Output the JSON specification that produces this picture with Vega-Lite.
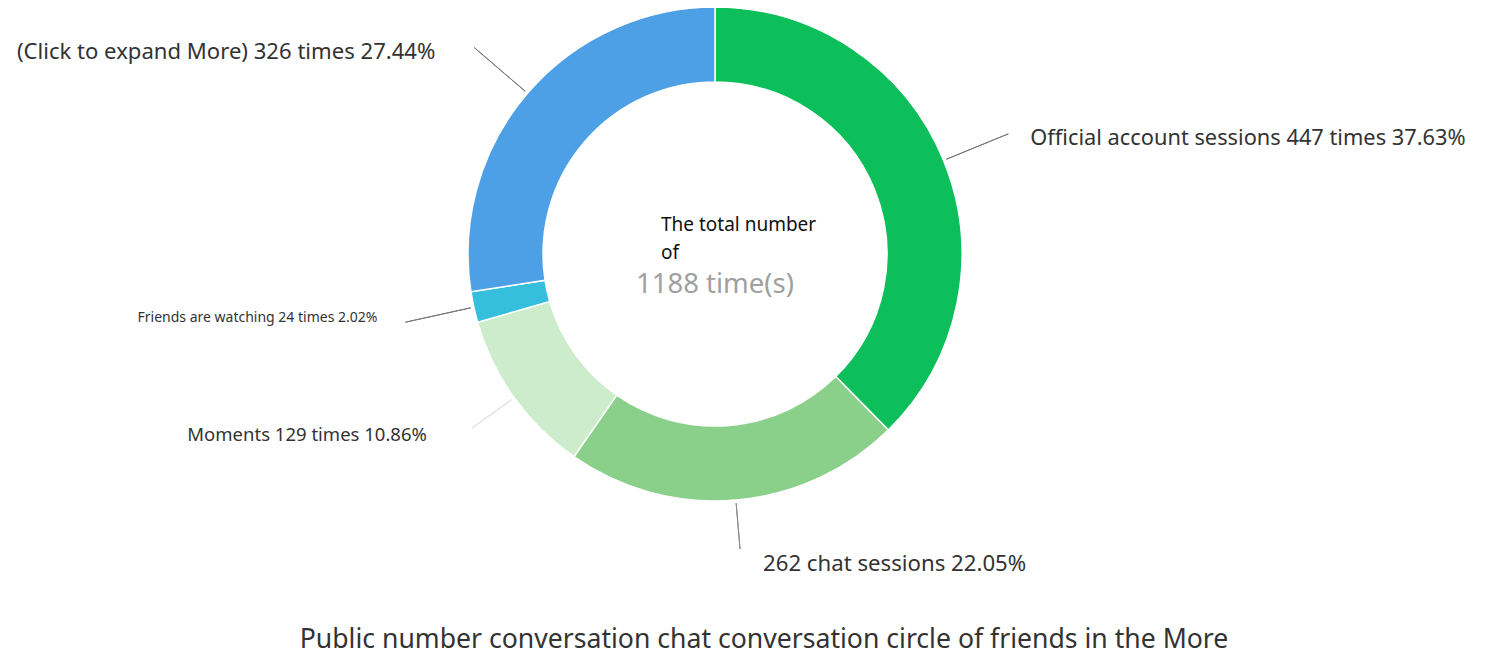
{
  "$schema": "https://vega.github.io/schema/vega-lite/v6.json",
  "width": 1430,
  "height": 508,
  "autosize": {"type": "none"},
  "padding": {"left": 0, "top": 0, "right": 56, "bottom": 148},
  "background": "white",
  "config": {"view": {"stroke": null}, "font": "Noto Sans"},
  "title": {
    "text": "Public number conversation chat conversation circle of friends in the More",
    "orient": "bottom",
    "anchor": "middle",
    "frame": "group",
    "dx": 49,
    "offset": 54,
    "baseline": "middle",
    "fontSize": 26.6,
    "fontWeight": "normal",
    "color": "#333333",
    "font": "Noto Sans"
  },
  "data": {
    "values": [
      {"category": "Official account sessions", "value": 447, "order": 1, "label": "Official account sessions 447 times 37.63%"},
      {"category": "Chat sessions", "value": 262, "order": 2, "label": "262 chat sessions 22.05%"},
      {"category": "Moments", "value": 129, "order": 3, "label": "Moments 129 times 10.86%"},
      {"category": "Friends are watching", "value": 24, "order": 4, "label": "Friends are watching 24 times 2.02%"},
      {"category": "(Click to expand More)", "value": 326, "order": 5, "label": "(Click to expand More) 326 times 27.44%"}
    ]
  },
  "encoding": {
    "theta": {"field": "value", "type": "quantitative", "stack": true},
    "order": {"field": "order", "type": "quantitative"}
  },
  "layer": [
    {
      "mark": {"type": "arc", "radius": 247, "radius2": 172, "stroke": "white", "strokeWidth": 1.5},
      "encoding": {
        "color": {
          "field": "category",
          "type": "nominal",
          "legend": null,
          "scale": {
            "domain": ["Official account sessions", "Chat sessions", "Moments", "Friends are watching", "(Click to expand More)"],
            "range": ["#0dbf5b", "#8ad08a", "#cdeccb", "#35bfdc", "#4d9fe6"]
          }
        }
      }
    },
    {
      "mark": {"type": "arc", "radius": 250, "radius2": 317, "padAngle": 3, "fill": null, "stroke": "#777777", "strokeWidth": 1},
      "encoding": {
        "strokeOpacity": {"condition": {"test": "datum.order == 1 || datum.order == 4 || datum.order == 5", "value": 1}, "value": 0}
      }
    },
    {
      "mark": {"type": "arc", "radius": 250, "radius2": 296, "padAngle": 3, "fill": null, "stroke": "#888888", "strokeWidth": 1},
      "encoding": {
        "strokeOpacity": {"condition": {"test": "datum.order == 2", "value": 1}, "value": 0}
      }
    },
    {
      "mark": {"type": "arc", "radius": 250, "radius2": 299, "padAngle": 3, "fill": null, "stroke": "#dddddd", "strokeWidth": 1},
      "encoding": {
        "strokeOpacity": {"condition": {"test": "datum.order == 3", "value": 1}, "value": 0}
      }
    },
    {
      "mark": {"type": "text", "radius": 317, "align": "left", "baseline": "middle", "dx": 22, "dy": 4, "fontSize": 21.8, "color": "#333333"},
      "encoding": {
        "text": {"condition": {"test": "datum.order == 1", "field": "label"}, "value": ""}
      }
    },
    {
      "mark": {"type": "text", "radius": 296, "align": "left", "baseline": "middle", "dx": 23, "dy": 15, "fontSize": 22.2, "color": "#333333"},
      "encoding": {
        "text": {"condition": {"test": "datum.order == 2", "field": "label"}, "value": ""}
      }
    },
    {
      "mark": {"type": "text", "radius": 299, "align": "right", "baseline": "middle", "dx": -45, "dy": 7, "fontSize": 18.5, "color": "#333333"},
      "encoding": {
        "text": {"condition": {"test": "datum.order == 3", "field": "label"}, "value": ""}
      }
    },
    {
      "mark": {"type": "text", "radius": 317, "align": "right", "baseline": "middle", "dx": -28, "dy": -4, "fontSize": 14, "color": "#333333"},
      "encoding": {
        "text": {"condition": {"test": "datum.order == 4", "field": "label"}, "value": ""}
      }
    },
    {
      "mark": {"type": "text", "radius": 317, "align": "right", "baseline": "middle", "dx": -39, "dy": 4, "fontSize": 22.1, "color": "#333333"},
      "encoding": {
        "text": {"condition": {"test": "datum.order == 5", "field": "label"}, "value": ""}
      }
    },
    {
      "data": {"values": [{"t": ["The total number", "of"]}]},
      "mark": {"type": "text", "align": "left", "baseline": "middle", "dx": -54, "dy": -29, "lineHeight": 28, "fontSize": 19, "color": "#111111"},
      "encoding": {"text": {"field": "t"}, "theta": null, "order": null}
    },
    {
      "data": {"values": [{"t": "1188 time(s)"}]},
      "mark": {"type": "text", "align": "center", "baseline": "middle", "dy": 31, "fontSize": 27.5, "color": "#a0a0a0"},
      "encoding": {"text": {"field": "t"}, "theta": null, "order": null}
    }
  ]
}
